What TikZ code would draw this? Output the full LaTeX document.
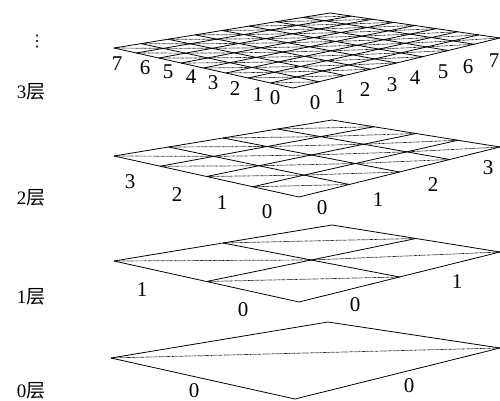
\documentclass[tikz,border=0pt]{standalone}
\usepackage{fontspec}
\setmainfont{Liberation Serif}
\newfontfamily\cjk{Noto Sans CJK SC}
\newfontfamily\dejavu{DejaVu Sans}
\usetikzlibrary{calc}
\tikzset{
  edgeline/.style={line width=0.8pt, line join=round},
  diagline/.style={line width=0.7pt, dash pattern=on 0.7pt off 0.6pt, black},
  lbl/.style={font=\fontsize{21}{21}\selectfont, inner sep=0pt},
  layerlbl/.style={font=\fontsize{19}{19}\selectfont, inner sep=0pt},
}
\newcommand\drawlayer[5]{% #1 n, #2 L, #3 B, #4 R, #5 T
  \coordinate (L) at #2; \coordinate (B) at #3; \coordinate (R) at #4; \coordinate (T) at #5;
  \pgfmathtruncatemacro\nm{#1-1}
  \foreach \i in {0,...,\nm} {
    \pgfmathsetmacro\ia{\i/#1}
    \pgfmathsetmacro\ib{(\i+1)/#1}
    \coordinate (pa) at ($(B)!\ia!(L)$);
    \coordinate (qa) at ($(R)!\ia!(T)$);
    \coordinate (pb) at ($(B)!\ib!(L)$);
    \coordinate (qb) at ($(R)!\ib!(T)$);
    \foreach \j in {0,...,\nm} {
      \pgfmathsetmacro\ja{\j/#1}
      \pgfmathsetmacro\jb{(\j+1)/#1}
      \draw[diagline] ($(pb)!\ja!(qb)$) -- ($(pa)!\jb!(qa)$);
    }
  }
  \foreach \i in {0,...,#1} {
    \pgfmathsetmacro\ia{\i/#1}
    \draw[edgeline] ($(B)!\ia!(L)$) -- ($(R)!\ia!(T)$);
    \draw[edgeline] ($(B)!\ia!(R)$) -- ($(L)!\ia!(T)$);
  }
}
\begin{document}
\begin{tikzpicture}[x=1pt,y=-1pt]
\useasboundingbox (0,0) rectangle (500,401);
% layer 0
\drawlayer{1}{(111,358)}{(295,399)}{(500,348)}{(328,322)}
% layer 1
\drawlayer{2}{(114,261)}{(299,302)}{(500,252)}{(332,225)}
% layer 2
\drawlayer{4}{(114,156)}{(299,197)}{(500,147)}{(332,120)}
% layer 3
\drawlayer{8}{(114,48)}{(293,88)}{(500,38)}{(330,13)}

% layer labels
\node[layerlbl] (l3) at (31,92) {3\cjk{层}};
\node[layerlbl] (l2) at (31,198) {2\cjk{层}};
\node[layerlbl] (l1) at (31,297) {1\cjk{层}};
\node[layerlbl] (l0) at (31,391) {0\cjk{层}};
\node[inner sep=0pt, font=\dejavu\fontsize{16}{16}\selectfont] (dots) at (37,42) {⋮};

% layer 0 labels
\node[lbl] (a0l) at (194,391) {0};
\node[lbl] (a0r) at (409,386) {0};
% layer 1 labels
\node[lbl] (b1l) at (142,290) {1};
\node[lbl] (b0l) at (243,310) {0};
\node[lbl] (b0r) at (355,305) {0};
\node[lbl] (b1r) at (457,282) {1};
% layer 2 labels
\node[lbl] (c3l) at (130,182) {3};
\node[lbl] (c2l) at (177,195) {2};
\node[lbl] (c1l) at (222,203) {1};
\node[lbl] (c0l) at (267,212) {0};
\node[lbl] (c0r) at (322,208) {0};
\node[lbl] (c1r) at (378,200) {1};
\node[lbl] (c2r) at (433,185) {2};
\node[lbl] (c3r) at (488,168) {3};
% layer 3 labels
\node[lbl] (d7l) at (117,64) {7};
\node[lbl] (d6l) at (145,68) {6};
\node[lbl] (d5l) at (168,72) {5};
\node[lbl] (d4l) at (191,77) {4};
\node[lbl] (d3l) at (213,83) {3};
\node[lbl] (d2l) at (235,89) {2};
\node[lbl] (d1l) at (258,95) {1};
\node[lbl] (d0l) at (275,98) {0};
\node[lbl] (d0r) at (315,103) {0};
\node[lbl] (d1r) at (340,97) {1};
\node[lbl] (d2r) at (365,90) {2};
\node[lbl] (d3r) at (392,85) {3};
\node[lbl] (d4r) at (415,78) {4};
\node[lbl] (d5r) at (443,72) {5};
\node[lbl] (d6r) at (468,67) {6};
\node[lbl] (d7r) at (494,61) {7};
\end{tikzpicture}
\end{document}
